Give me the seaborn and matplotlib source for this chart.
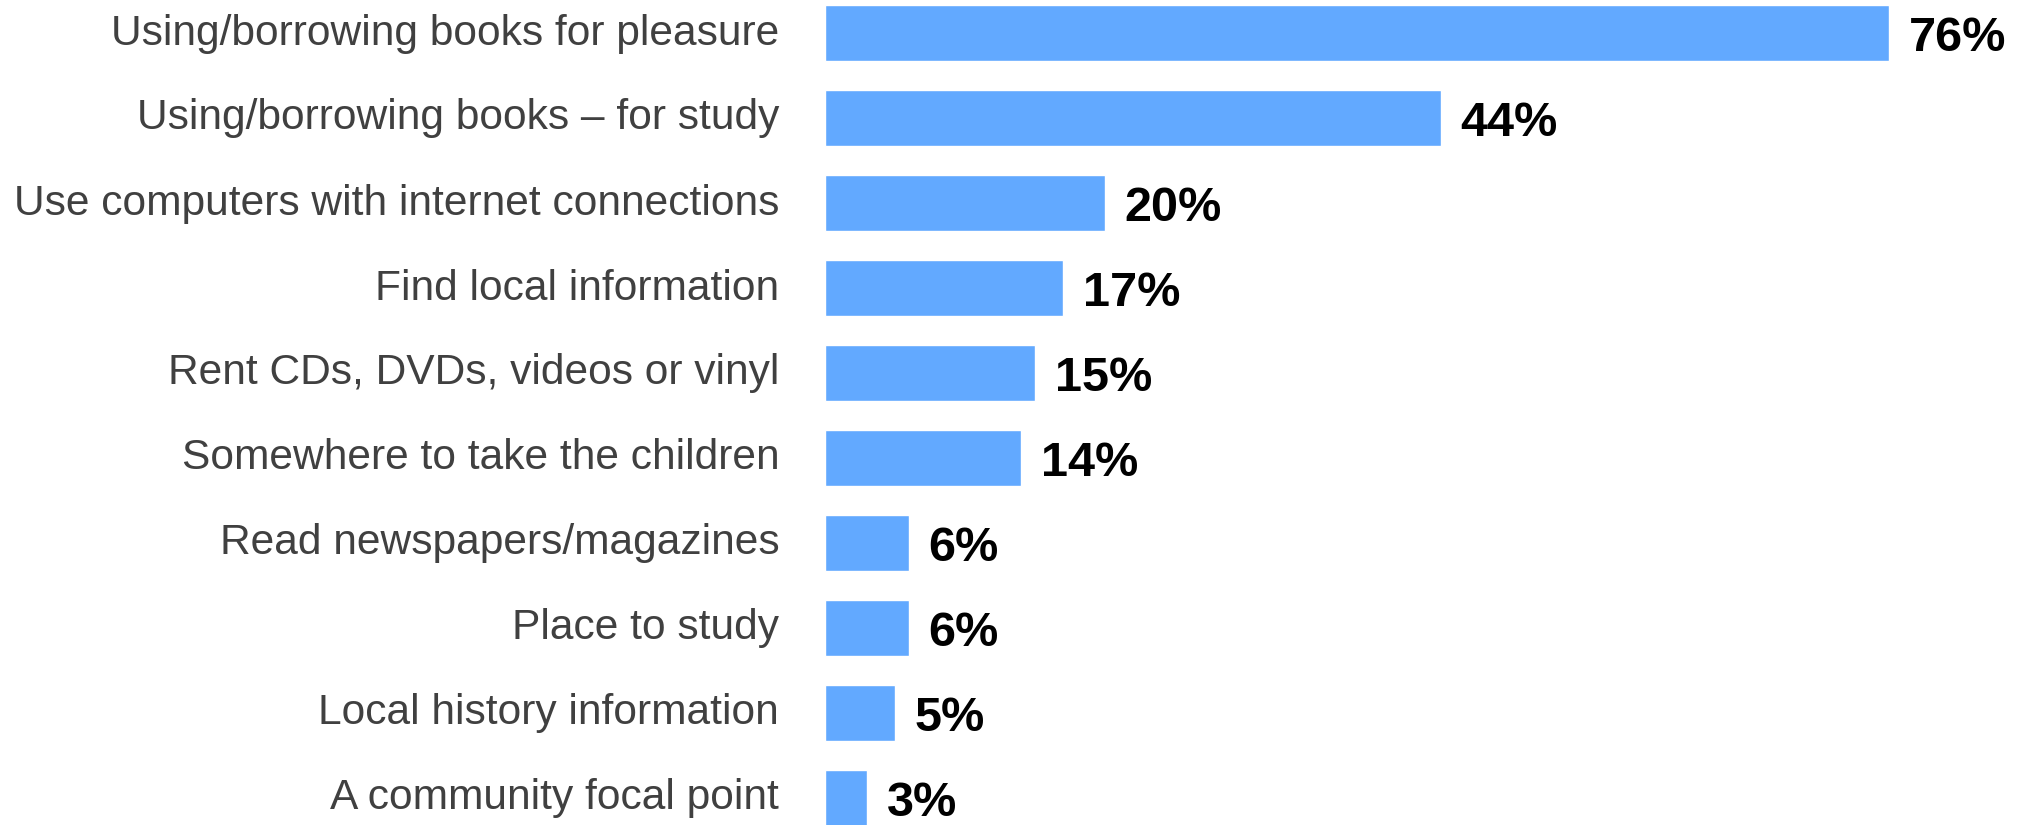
import matplotlib
matplotlib.use("Agg")
import matplotlib.pyplot as plt
import matplotlib.transforms as mtransforms
import seaborn as sns
import pandas as pd

categories = [
    "Using/borrowing books for pleasure",
    "Using/borrowing books \u2013 for study",
    "Use computers with internet connections",
    "Find local information",
    "Rent CDs, DVDs, videos or vinyl",
    "Somewhere to take the children",
    "Read newspapers/magazines",
    "Place to study",
    "Local history information",
    "A community focal point",
]
values = [76, 44, 20, 17, 15, 14, 6, 6, 5, 3]
value_labels = ["76%", "44%", "20%", "17%", "15%", "14%", "6%", "6%", "5%", "3%"]

df = pd.DataFrame({"category": categories, "value": values})

sns.set_style("white")
plt.rcParams["font.family"] = ["Liberation Sans", "DejaVu Sans"]

fig = plt.figure(figsize=(20.18, 8.25), dpi=100)
ax = fig.add_axes([825 / 2018, 0, 1 - 825 / 2018, 1])

sns.barplot(data=df, x="value", y="category", color="#62a9ff", saturation=1,
            width=0.65, ax=ax)

for i, (v, lab) in enumerate(zip(values, value_labels)):
    ax.text(v + 1.4, i + 0.07, lab, va="center", ha="left",
            fontsize=35, fontweight="bold", color="black")

ax.set_xlim(0, 1193 / 14.0)
ax.set_ylim((825 - 33) / 85, -33 / 85)
ax.set_xlabel("")
ax.set_ylabel("")
ax.set_xticks([])
ax.tick_params(axis="y", length=0, pad=33, labelsize=30.6, labelcolor="#404040")
# nudge category labels up a touch
shift = mtransforms.ScaledTranslation(0, 0.04, fig.dpi_scale_trans)
for t in ax.get_yticklabels():
    t.set_transform(t.get_transform() + shift)
sns.despine(ax=ax, left=True, bottom=True)

fig.savefig("out.png", dpi=100)
